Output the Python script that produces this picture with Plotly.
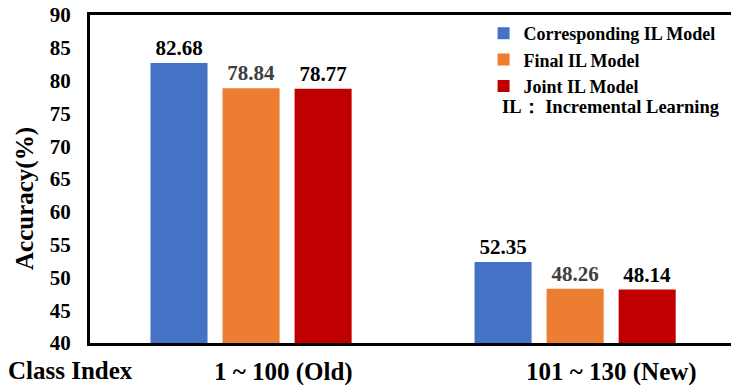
import plotly.graph_objects as go

categories = ["1 ~ 100 (Old)", "101 ~ 130 (New)"]
series_names = ["Corresponding IL Model", "Final IL Model", "Joint IL Model"]
corresponding = [82.68, 52.35]
final = [78.84, 48.26]
joint = [78.77, 48.14]
y_ticks = [40, 45, 50, 55, 60, 65, 70, 75, 80, 85, 90]

colors = ["#4472C4", "#ED7D31", "#C00000"]
label_colors = ["#000000", "#404040", "#000000"]
cat_label_shift = [32, 36]
FONT = "Liberation Serif"

fig = go.Figure()
for name, vals, c, lc in zip(series_names, [corresponding, final, joint], colors, label_colors):
    fig.add_trace(go.Bar(
        x=categories, y=vals, name=name,
        marker=dict(color=c, line=dict(width=0)),
        text=[f"{v:.2f}" for v in vals], textposition="outside",
        textfont=dict(family=FONT, size=21, color=lc, weight="bold"),
        cliponaxis=False,
    ))

fig.update_layout(
    width=731, height=385,
    margin=dict(l=90, r=0, t=15, b=42),
    plot_bgcolor="white", paper_bgcolor="white",
    barmode="group", bargap=0.333, bargroupgap=0.208,
    font=dict(family=FONT, color="black"),
    showlegend=True,
    legend=dict(
        x=0.614, y=1.0, xanchor="left", yanchor="top",
        bgcolor="rgba(0,0,0,0)", itemwidth=30, tracegroupgap=0,
        font=dict(family=FONT, size=18, weight="bold"),
        itemclick=False,
    ),
    xaxis=dict(
        type="category", range=[-0.497, 1.481],
        showline=True, linecolor="black", linewidth=3, mirror=True,
        showticklabels=False, ticks="", showgrid=False, zeroline=False,
    ),
    yaxis=dict(
        range=[40, 90], tickvals=y_ticks,
        showline=True, linecolor="black", linewidth=3,
        showgrid=False, zeroline=False, ticks="",
        ticklabelstandoff=12,
        tickfont=dict(family=FONT, size=21, weight="bold"),
    ),
)

for cat, sh in zip(categories, cat_label_shift):
    fig.add_annotation(
        x=cat, y=0, xref="x", yref="paper", yanchor="middle", yshift=-28.5, xshift=sh,
        text=cat, showarrow=False,
        font=dict(family=FONT, size=25, weight="bold"),
    )
fig.add_annotation(
    x=0, y=0, xref="paper", yref="paper", xanchor="center", yanchor="middle",
    xshift=-20, yshift=-27, text="Class Index", showarrow=False,
    font=dict(family=FONT, size=25, weight="bold"),
)
fig.add_annotation(
    x=0, y=0.439, xref="paper", yref="paper", xanchor="center", yanchor="middle",
    xshift=-65, text="Accuracy(%)", textangle=-90, showarrow=False,
    font=dict(family=FONT, size=25, weight="bold"),
)
fig.add_annotation(
    x=1, y=1, xref="paper", yref="paper", xanchor="right", yanchor="middle",
    xshift=-9, yshift=-92, text="IL\uff1a Incremental Learning", showarrow=False,
    font=dict(family=FONT, size=18.5, weight="bold"),
)

fig.write_html("out.html")
